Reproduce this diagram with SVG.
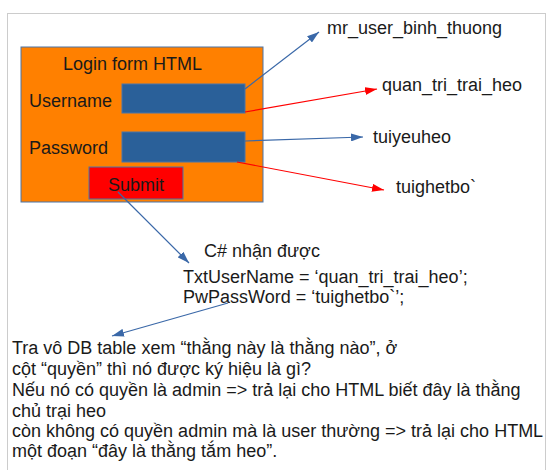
<svg xmlns="http://www.w3.org/2000/svg" width="555" height="470" viewBox="0 0 555 470">
<style>
text{font-family:"Liberation Sans",Arial,sans-serif;font-size:18px;fill:#1a1a1a}
.blue{stroke:#3a68a8;stroke-width:1.2;fill:none}
.red{stroke:#ff0000;stroke-width:1.2;fill:none}
.field{fill:#2a6099;stroke:#4a74a8;stroke-width:1}
</style>
<defs>
<marker id="ab" viewBox="0 0 12 8" refX="12" refY="4" markerWidth="12" markerHeight="8" markerUnits="userSpaceOnUse" orient="auto"><path d="M0,0 L12,4 L0,8 Z" fill="#3a68a8"/></marker>
<marker id="ar" viewBox="0 0 12 8" refX="12" refY="4" markerWidth="12" markerHeight="8" markerUnits="userSpaceOnUse" orient="auto"><path d="M0,0 L12,4 L0,8 Z" fill="#ff0000"/></marker>
</defs>
<rect x="0" y="0" width="555" height="470" fill="#ffffff"/>
<rect x="7.5" y="13.5" width="538" height="470" fill="#ffffff" stroke="#cccccc" stroke-width="1"/>
<g id="form">
<rect x="21" y="47" width="242" height="155" fill="#ff8000" stroke="#4a74a8" stroke-width="1"/>
<text x="63" y="70">Login form HTML</text>
<text x="29" y="107">Username</text>
<text x="29" y="154">Password</text>
</g>
<g id="username-field"><rect class="field" x="122" y="84" width="123" height="29"/></g>
<g id="password-field"><rect class="field" x="122" y="132" width="123" height="30"/></g>
<g id="submit"><rect x="89" y="167" width="94" height="32" fill="#ff0000" stroke="#4a74a8" stroke-width="1"/><text x="136" y="191" text-anchor="middle">Submit</text></g>
<g id="label-mr"><text x="327" y="34">mr_user_binh_thuong</text></g>
<g id="label-quan"><text x="382" y="91">quan_tri_trai_heo</text></g>
<g id="label-tuiyeu"><text x="373" y="143">tuiyeuheo</text></g>
<g id="label-tuighet"><text x="396" y="193">tuighetbo`</text></g>
<g id="csharp">
<text x="204" y="257">C# nhận được</text>
<text x="183" y="283">TxtUserName = ‘quan_tri_trai_heo’;</text>
<text x="183" y="303">PwPassWord = ‘tuighetbo`’;</text>
</g>
<g id="db-text">
<text x="12" y="354">Tra vô DB table xem “thằng này là thằng nào”, ở</text>
<text x="12" y="375">cột “quyền” thì nó được ký hiệu là gì?</text>
<text x="12" y="396">Nếu nó có quyền là admin =&gt; trả lại cho HTML biết đây là thằng</text>
<text x="12" y="417">chủ trại heo</text>
<text x="12" y="437">còn không có quyền admin mà là user thường =&gt; trả lại cho HTML</text>
<text x="12" y="457">một đoạn “đây là thằng tắm heo”.</text>
</g>
<g id="connectors">
<line class="blue" x1="245" y1="89" x2="319" y2="32" marker-end="url(#ab)"/>
<line class="red" x1="245" y1="112" x2="377" y2="89" marker-end="url(#ar)"/>
<line class="blue" x1="245" y1="141" x2="363" y2="137" marker-end="url(#ab)"/>
<line class="red" x1="237" y1="162" x2="384" y2="190" marker-end="url(#ar)"/>
<line class="blue" x1="118" y1="192" x2="189" y2="263" marker-end="url(#ab)"/>
<line class="blue" x1="228" y1="303" x2="112" y2="336" marker-end="url(#ab)"/>
</g>
</svg>
